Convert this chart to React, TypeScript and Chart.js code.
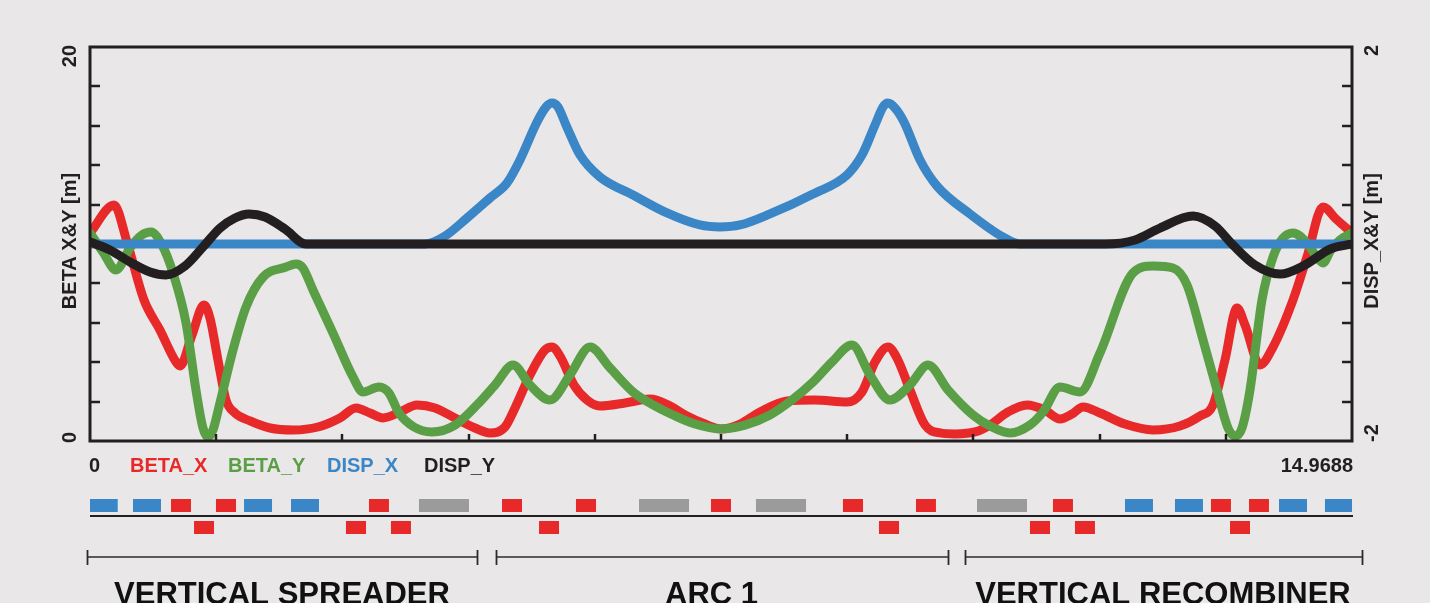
import React, { useEffect, useRef } from "react";
import { Chart, registerables } from "chart.js";

Chart.register(...registerables);

const S_END = 14.9688;
const FONT = '"Liberation Sans", Arial, Helvetica, sans-serif';
const BG = "#e9e7e8";
const DARK = "#231f20";
const RED = "#e8292a";
const GREEN = "#5a9e45";
const BLUE = "#3a86c6";
const GRAY = "#9b9b9b";

// ---- lattice functions (s in m) ----
const betaXS = [0, 0.285, 0.439, 0.64, 0.83, 1.02, 1.067, 1.21, 1.352, 1.423, 1.518, 1.613, 1.72, 1.898, 2.135, 2.408, 2.704, 2.965, 3.155, 3.321, 3.475, 3.677, 3.879, 4.092, 4.329, 4.566, 4.744, 4.922, 5.041, 5.219, 5.397, 5.48, 5.575, 5.741, 5.895, 6.049, 6.346, 6.642, 6.856, 7.057, 7.295, 7.484, 7.71, 7.947, 8.267, 8.599, 8.979, 9.157, 9.311, 9.465, 9.572, 9.726, 9.904, 10.082, 10.26, 10.497, 10.675, 10.888, 11.114, 11.327, 11.505, 11.648, 11.778, 11.98, 12.276, 12.608, 12.928, 13.166, 13.32, 13.462, 13.605, 13.7, 13.877, 14.032, 14.269, 14.435, 14.625, 14.779, 14.969];
const betaXV = [10.56, 11.98, 10.1, 7.16, 5.63, 4.01, 3.81, 5.38, 6.9, 6.24, 4.11, 2.08, 1.42, 1.02, 0.66, 0.56, 0.71, 1.17, 1.68, 1.42, 1.17, 1.47, 1.83, 1.68, 1.17, 0.66, 0.41, 0.71, 1.68, 3.35, 4.62, 4.77, 4.31, 2.84, 2.08, 1.78, 1.93, 2.13, 1.83, 1.32, 0.86, 0.61, 0.86, 1.47, 2.03, 2.08, 1.98, 2.49, 4.01, 4.77, 4.21, 2.59, 0.81, 0.41, 0.36, 0.46, 0.81, 1.47, 1.83, 1.57, 1.12, 1.37, 1.73, 1.42, 0.86, 0.56, 0.76, 1.27, 1.83, 4.11, 6.75, 5.89, 3.86, 4.77, 7.16, 9.34, 11.88, 11.27, 10.56];

const betaYS = [0, 0.154, 0.308, 0.474, 0.617, 0.724, 0.854, 0.984, 1.139, 1.257, 1.34, 1.4, 1.459, 1.53, 1.696, 1.85, 2.052, 2.325, 2.443, 2.526, 2.645, 2.882, 3.119, 3.238, 3.428, 3.546, 3.665, 3.843, 4.056, 4.329, 4.59, 4.804, 5.017, 5.219, 5.456, 5.693, 5.931, 6.168, 6.441, 6.678, 6.915, 7.176, 7.472, 7.769, 8.065, 8.326, 8.576, 8.801, 9.038, 9.252, 9.489, 9.726, 9.94, 10.177, 10.473, 10.675, 10.912, 11.149, 11.304, 11.505, 11.743, 11.98, 12.371, 12.608, 12.846, 13.012, 13.202, 13.367, 13.498, 13.581, 13.664, 13.759, 13.901, 14.032, 14.15, 14.269, 14.435, 14.542, 14.625, 14.72, 14.826, 14.969];
const betaYV = [10.56, 9.59, 8.68, 9.8, 10.46, 10.61, 9.95, 8.53, 5.99, 2.59, 0.66, 0.2, 0.56, 1.73, 4.62, 6.8, 8.32, 8.83, 8.98, 8.78, 7.66, 5.48, 3.25, 2.49, 2.74, 2.44, 1.42, 0.71, 0.46, 0.81, 1.83, 2.84, 3.86, 2.84, 2.08, 3.35, 4.77, 3.71, 2.49, 1.83, 1.32, 0.86, 0.61, 0.81, 1.32, 2.08, 2.99, 4.01, 4.87, 3.35, 2.08, 2.84, 3.86, 2.59, 1.32, 0.76, 0.41, 0.81, 1.47, 2.74, 2.49, 4.47, 8.53, 8.88, 8.78, 7.92, 5.13, 2.59, 0.66, 0.25, 0.66, 2.59, 7.16, 9.34, 10.3, 10.56, 10.05, 9.39, 9.04, 9.7, 10.2, 10.56];

const dispXS = [0, 3.973, 4.211, 4.472, 4.744, 4.946, 5.1, 5.302, 5.409, 5.48, 5.551, 5.646, 5.812, 6.049, 6.441, 6.844, 7.235, 7.472, 7.71, 8.065, 8.576, 8.979, 9.157, 9.311, 9.406, 9.465, 9.548, 9.655, 9.845, 10.046, 10.438, 10.829, 11.031, 14.969];
const dispXV = [0, 0, 0.081, 0.264, 0.467, 0.619, 0.853, 1.239, 1.391, 1.431, 1.391, 1.208, 0.904, 0.68, 0.497, 0.315, 0.193, 0.173, 0.193, 0.305, 0.508, 0.701, 0.904, 1.208, 1.391, 1.431, 1.381, 1.239, 0.853, 0.589, 0.305, 0.071, 0, 0];

const dispYS = [0, 0.237, 0.474, 0.712, 0.901, 1.127, 1.34, 1.542, 1.72, 1.886, 2.076, 2.313, 2.562, 12.039, 12.395, 12.691, 13.083, 13.344, 13.557, 13.818, 14.115, 14.411, 14.708, 14.969];
const dispYV = [0.02, -0.061, -0.183, -0.284, -0.315, -0.223, -0.03, 0.162, 0.264, 0.305, 0.274, 0.152, 0, 0, 0.041, 0.162, 0.284, 0.183, -0.01, -0.213, -0.305, -0.213, -0.051, 0];

const seriesNames = ["BETA_X", "BETA_Y", "DISP_X", "DISP_Y"];
const seriesColors = [RED, GREEN, BLUE, DARK];

// ---- axis ticks / labels ----
const leftTickValues = [2, 4, 6, 8, 10, 12, 14, 16, 18];
const rightTickValues = [-1.6, -1.2, -0.8, -0.4, 0, 0.4, 0.8, 1.2, 1.6];
const xTickValues = [1, 2, 3, 4, 5, 6, 7, 8, 9].map((i) => (S_END * i) / 10);
const xEndLabels = ["0", "14.9688"];
const leftLabels = ["0", "20"];
const rightLabels = ["-2", "2"];

// ---- beamline elements (s ranges) ----
const upperBlue = [[0, 0.329], [0.51, 0.842], [1.827, 2.159], [2.384, 2.716], [12.276, 12.608], [12.869, 13.201], [14.103, 14.435], [14.648, 14.969]];
const upperRed = [[0.961, 1.198], [1.494, 1.732], [3.309, 3.546], [4.887, 5.124], [5.764, 6.002], [7.366, 7.603], [8.931, 9.169], [9.797, 10.034], [11.422, 11.659], [13.296, 13.533], [13.747, 13.984]];
const upperGray = [[3.902, 4.495], [6.512, 7.105], [7.899, 8.493], [10.521, 11.114]];
const lowerRed = [[1.234, 1.471], [3.036, 3.274], [3.57, 3.807], [5.326, 5.563], [9.358, 9.596], [11.149, 11.387], [11.683, 11.92], [13.522, 13.759]];

// ---- sections ----
const sectionNames = ["VERTICAL SPREADER", "ARC 1", "VERTICAL RECOMBINER"];
const sectionStart = [-0.036, 4.816, 10.378];
const sectionEnd = [4.59, 10.177, 15.087];
const sectionLabelAt = [2.277, 7.372, 12.727];

function pts(xs: number[], ys: number[]) {
  const n = Math.min(xs.length, ys.length);
  const out: { x: number; y: number }[] = [];
  for (let i = 0; i < n; i++) out.push({ x: xs[i], y: ys[i] });
  return out;
}

const decor = {
  id: "decor",
  afterDatasetsDraw(chart: any) {
    const { ctx, chartArea: a } = chart;
    const xs = chart.scales.x;
    const yl = chart.scales.y;
    const yr = chart.scales.y2;
    const seg = (x1: number, y1: number, x2: number, y2: number) => {
      ctx.beginPath();
      ctx.moveTo(x1, y1);
      ctx.lineTo(x2, y2);
      ctx.stroke();
    };
    const vtext = (t: string, x: number, y: number, align: CanvasTextAlign) => {
      ctx.save();
      ctx.translate(x, y);
      ctx.rotate(-Math.PI / 2);
      ctx.textAlign = align;
      ctx.textBaseline = "alphabetic";
      ctx.fillText(t, 0, 0);
      ctx.restore();
    };
    ctx.save();
    ctx.strokeStyle = DARK;
    ctx.lineCap = "butt";
    ctx.lineWidth = 2.5;
    for (const v of leftTickValues) {
      const py = Math.round(yl.getPixelForValue(v));
      seg(a.left, py, a.left + 10, py);
    }
    for (const v of rightTickValues) {
      const py = Math.round(yr.getPixelForValue(v));
      seg(a.right - 10, py, a.right, py);
    }
    for (const v of xTickValues) {
      const px = Math.round(xs.getPixelForValue(v));
      seg(px, a.bottom - 7, px, a.bottom);
    }
    ctx.lineWidth = 3;
    ctx.strokeRect(a.left, a.top, a.right - a.left, a.bottom - a.top);

    // axis labels
    ctx.fillStyle = DARK;
    ctx.font = `bold 20px ${FONT}`;
    vtext(leftLabels[1], 76, a.top - 2, "right");
    vtext(leftLabels[0], 76, a.bottom + 2, "left");
    vtext("BETA X&Y [m]", 76, 241, "center");
    vtext(rightLabels[1], 1378, a.top - 2, "right");
    vtext(rightLabels[0], 1378, a.bottom + 1, "left");
    vtext("DISP_X&Y [m]", 1378, 241, "center");

    // x end labels + legend
    ctx.textBaseline = "alphabetic";
    ctx.textAlign = "left";
    ctx.fillText(xEndLabels[0], xs.getPixelForValue(0) - 1, 472);
    ctx.textAlign = "right";
    ctx.fillText(xEndLabels[1], xs.getPixelForValue(S_END) + 1, 472);
    const legendX = [130, 228, 327, 424];
    ctx.textAlign = "left";
    seriesNames.forEach((n, i) => {
      ctx.fillStyle = seriesColors[i];
      ctx.fillText(n, legendX[i], 472);
    });

    // beamline strip
    const block = (r: number[], y: number, c: string) => {
      const x1 = xs.getPixelForValue(r[0]);
      const x2 = xs.getPixelForValue(r[1]);
      ctx.fillStyle = c;
      ctx.fillRect(x1, y, x2 - x1, 13);
    };
    upperBlue.forEach((r) => block(r, 499, BLUE));
    upperRed.forEach((r) => block(r, 499, RED));
    upperGray.forEach((r) => block(r, 499, GRAY));
    lowerRed.forEach((r) => block(r, 521, RED));
    ctx.strokeStyle = DARK;
    ctx.lineWidth = 2;
    seg(xs.getPixelForValue(0), 516, xs.getPixelForValue(S_END) + 1, 516);

    // section brackets
    ctx.strokeStyle = "#2b2b2b";
    sectionNames.forEach((name, i) => {
      const x1 = Math.round(xs.getPixelForValue(sectionStart[i])) + 0.5;
      const x2 = Math.round(xs.getPixelForValue(sectionEnd[i])) + 0.5;
      ctx.lineWidth = 1.5;
      seg(x1, 557, x2, 557);
      ctx.lineWidth = 1.8;
      seg(x1, 550, x1, 565);
      seg(x2, 550, x2, 565);
      ctx.fillStyle = "#111111";
      ctx.font = `bold 31px ${FONT}`;
      ctx.textAlign = "center";
      ctx.textBaseline = "alphabetic";
      ctx.fillText(name, xs.getPixelForValue(sectionLabelAt[i]), 604);
    });
    ctx.restore();
  },
};

export default function App() {
  const ref = useRef<HTMLCanvasElement | null>(null);
  useEffect(() => {
    if (!ref.current) return;
    const common = {
      pointRadius: 0,
      borderWidth: 9,
      fill: false,
      cubicInterpolationMode: "monotone" as const,
      borderJoinStyle: "round" as const,
      borderCapStyle: "round" as const,
    };
    const chart = new Chart(ref.current, {
      type: "line",
      data: {
        datasets: [
          { ...common, label: seriesNames[0], data: pts(betaXS, betaXV), borderColor: RED, yAxisID: "y", order: 3 },
          { ...common, label: seriesNames[1], data: pts(betaYS, betaYV), borderColor: GREEN, yAxisID: "y", order: 2 },
          { ...common, label: seriesNames[2], data: pts(dispXS, dispXV), borderColor: BLUE, yAxisID: "y2", order: 1 },
          { ...common, label: seriesNames[3], data: pts(dispYS, dispYV), borderColor: DARK, yAxisID: "y2", order: 0 },
        ],
      },
      options: {
        animation: false,
        responsive: false,
        devicePixelRatio: 1,
        layout: { padding: { left: 90, top: 47, right: 78, bottom: 162 } },
        plugins: { legend: { display: false }, tooltip: { enabled: false } },
        scales: {
          x: { type: "linear", min: 0, max: S_END, display: false },
          y: { type: "linear", min: 0, max: 20, display: false },
          y2: { type: "linear", min: -2, max: 2, display: false, position: "right" },
        },
      },
      plugins: [decor],
    });
    return () => chart.destroy();
  }, []);
  return (
    <div style={{ position: "fixed", left: 0, top: 0, width: 1430, height: 603, background: BG, overflow: "hidden" }}>
      <canvas ref={ref} width={1430} height={603} style={{ display: "block", width: 1430, height: 603 }} />
    </div>
  );
}
